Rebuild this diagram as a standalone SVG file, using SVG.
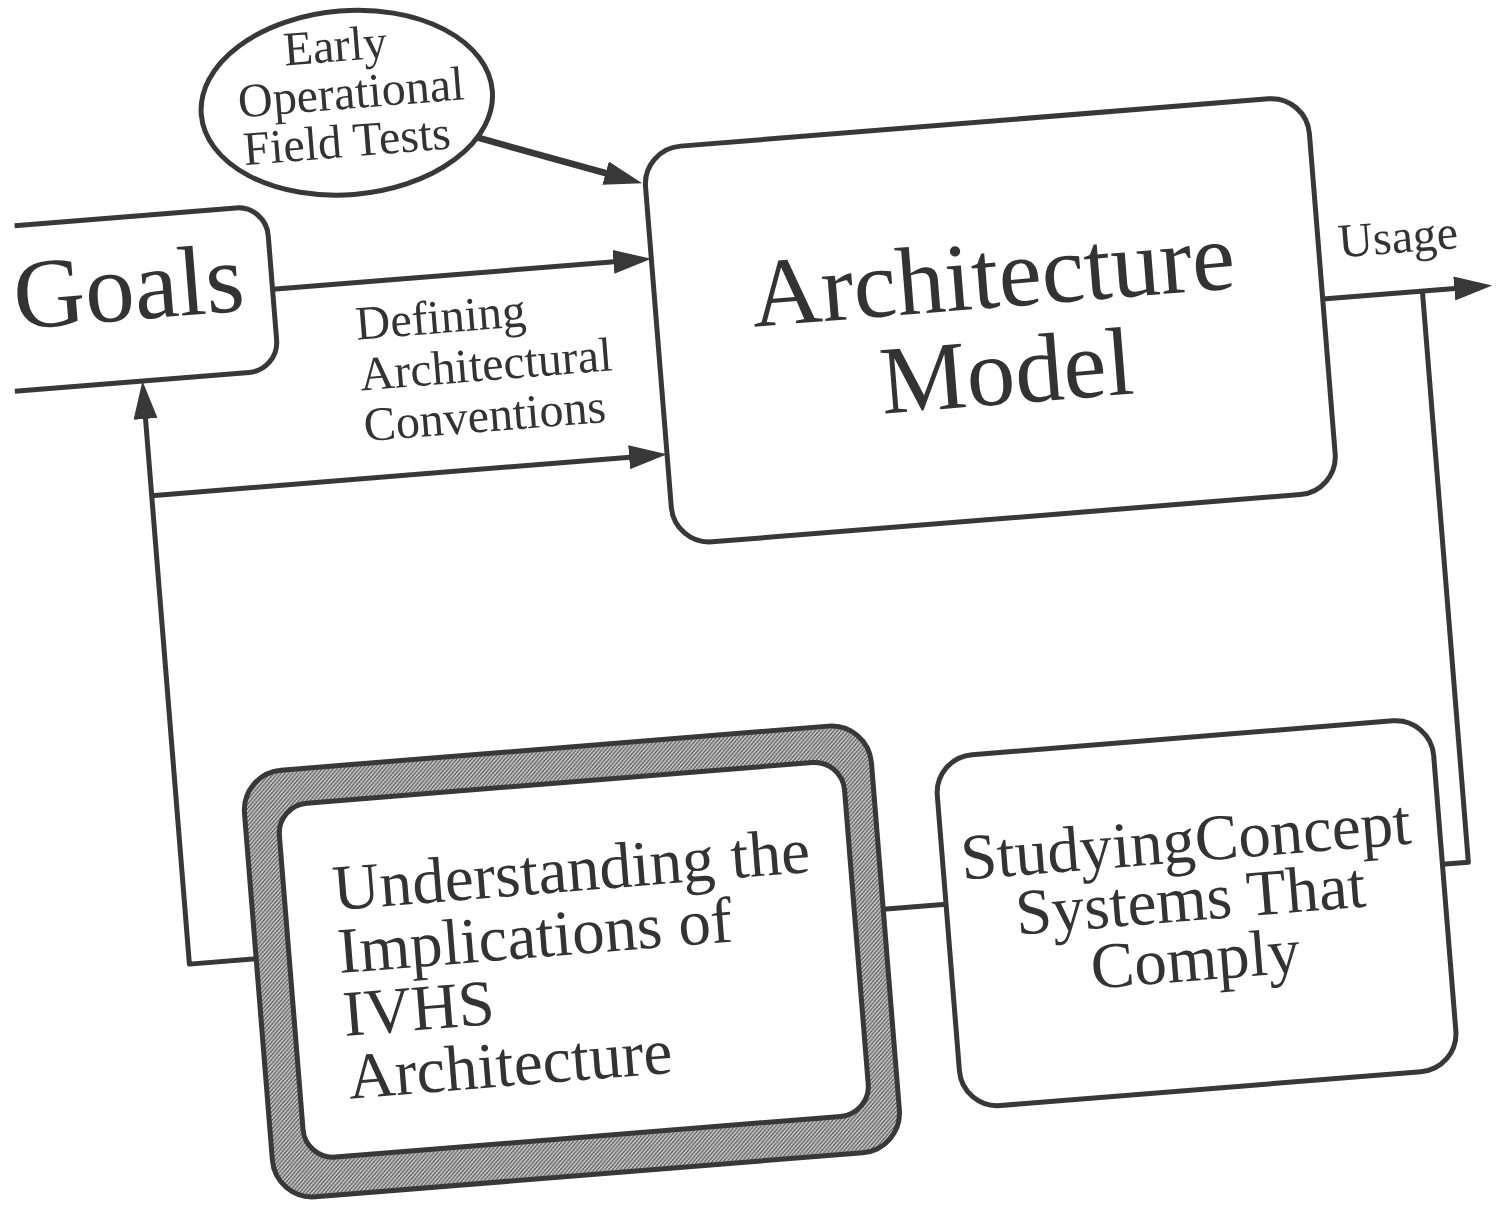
<svg xmlns="http://www.w3.org/2000/svg" width="1503" height="1206" viewBox="0 0 1503 1206">
<style>
.ln{fill:none;stroke:#383838;stroke-width:5;stroke-linejoin:round}
.box{fill:#fff;stroke:#383838;stroke-width:5}
.t{font-family:"Liberation Serif","Times New Roman",serif;fill:#333}
.s48{font-size:48px}
.s65{font-size:65px}
.s97{font-size:97px}
</style>
<defs>
<marker id="ah" viewBox="0 0 38 24" refX="23" refY="12" markerWidth="38" markerHeight="24" markerUnits="userSpaceOnUse" orient="auto">
<path d="M0,0 L38,12 L0,24 z" fill="#383838"/>
</marker>
<pattern id="hatch" width="4" height="4" patternUnits="userSpaceOnUse">
<rect width="4" height="4" fill="#d4d4d4"/>
<path d="M0,4 L4,0 M-1,1 L1,-1 M3,5 L5,3" stroke="#4a4a4a" stroke-width="1.1"/>
<path d="M0,0 L4,4" stroke="#8a8a8a" stroke-width="0.7"/>
</pattern>
</defs>
<rect width="1503" height="1206" fill="#fff"/>
<g transform="rotate(-4.6 750 600)">
<g id="connectors">
<path class="ln" d="M299,252 H664" marker-end="url(#ah)"/>
<path class="ln" d="M162,448 H664" marker-end="url(#ah)"/>
<path class="ln" style="stroke-width:6.5" d="M515,117 L661.9,170.8" marker-end="url(#ah)"/>
<path class="ln" d="M229,918 H162 V348" marker-end="url(#ah)"/>
<path class="ln" d="M1345,346 H1500" marker-end="url(#ah)"/>
<path class="ln" d="M1419,919 H1445 V346"/>
<path class="ln" d="M858,919 H921"/>
</g>
<g id="goals">
<path class="ln" d="M47,168 H269 A30,30 0 0 1 299,198 V303 A30,30 0 0 1 269,333 H34"/>
<text class="t" x="40" y="271" style="font-size:99px">Goals</text>
</g>
<g id="field-tests">
<ellipse class="box" cx="388" cy="72" rx="146" ry="92"/>
<text class="t s48" text-anchor="middle" x="381" y="30">Early</text>
<text class="t s48" text-anchor="middle" x="393" y="78">Operational</text>
<text class="t s48" text-anchor="middle" x="385" y="126">Field Tests</text>
</g>
<g id="conventions-label">
<text class="t s48" x="379" y="309">Defining</text>
<text class="t s48" x="379" y="360">Architectural</text>
<text class="t s48" x="379" y="411">Conventions</text>
</g>
<g id="architecture-model">
<rect class="box" x="679" y="142" width="666" height="397" rx="38"/>
<text class="t s97" text-anchor="middle" x="1018" y="328">Architecture</text>
<text class="t s97" text-anchor="middle" x="1024" y="425">Model</text>
</g>
<g id="usage-label">
<text class="t s48" text-anchor="middle" x="1425" y="306">Usage</text>
</g>
<g id="ivhs">
<path fill="url(#hatch)" fill-rule="evenodd" d="M269,732 H818 A40,40 0 0 1 858,772 V1120 A40,40 0 0 1 818,1160 H269 A40,40 0 0 1 229,1120 V772 A40,40 0 0 1 269,732 Z M292,767 H799 A30,30 0 0 1 829,797 V1092 A30,30 0 0 1 799,1122 H292 A30,30 0 0 1 262,1092 V797 A30,30 0 0 1 292,767 Z"/>
<rect x="229" y="732" width="629" height="428" rx="40" fill="none" stroke="#383838" stroke-width="5"/>
<rect x="262" y="767" width="567" height="355" rx="30" fill="#fff" stroke="#383838" stroke-width="5"/>
<text class="t s65" x="311" y="876">Understanding the</text>
<text class="t s65" x="311" y="939">Implications of</text>
<text class="t s65" x="311" y="1002">IVHS</text>
<text class="t s65" x="311" y="1065">Architecture</text>
</g>
<g id="studying">
<rect class="box" x="921" y="772" width="498" height="352" rx="38"/>
<text class="t s65" text-anchor="middle" x="1165" y="896">StudyingConcept</text>
<text class="t s65" text-anchor="middle" x="1165" y="955">Systems That</text>
<text class="t s65" text-anchor="middle" x="1165" y="1015">Comply</text>
</g>
</g>
</svg>
